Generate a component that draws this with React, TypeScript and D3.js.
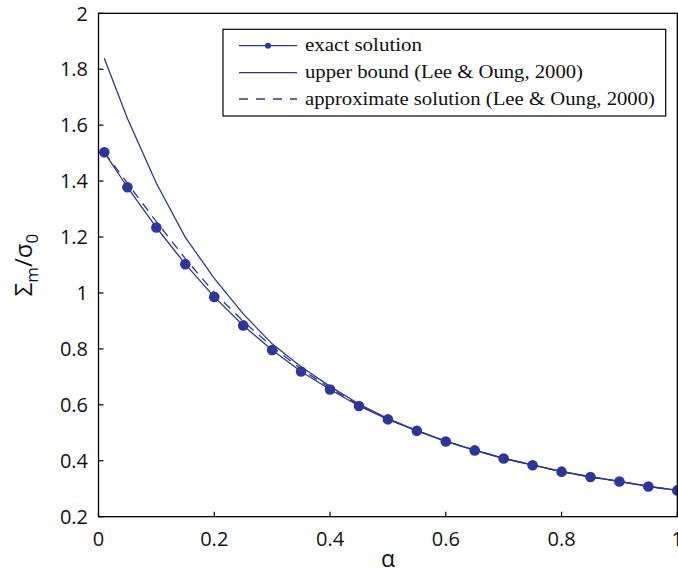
import React from "react";
import * as d3 from "d3";

const alphas = [0.01, 0.05, 0.1, 0.15, 0.2, 0.25, 0.3, 0.35, 0.4, 0.45, 0.5, 0.55, 0.6, 0.65, 0.7, 0.75, 0.8, 0.85, 0.9, 0.95, 1.0];
const exact = [1.503, 1.378, 1.234, 1.103, 0.986, 0.884, 0.796, 0.719, 0.655, 0.596, 0.548, 0.507, 0.469, 0.437, 0.408, 0.384, 0.361, 0.342, 0.326, 0.308, 0.294];
const upper = [1.839, 1.624, 1.392, 1.199, 1.052, 0.925, 0.818, 0.736, 0.666, 0.603, 0.551, 0.508, 0.470, 0.438, 0.409, 0.385, 0.362, 0.343, 0.326, 0.309, 0.294];
const approx = [1.503, 1.392, 1.255, 1.123, 1.001, 0.899, 0.808, 0.728, 0.660, 0.599, 0.549, 0.508, 0.470, 0.438, 0.409, 0.384, 0.361, 0.342, 0.326, 0.308, 0.294];
const xTicks = [0, 0.2, 0.4, 0.6, 0.8, 1];
const yTicks = [0.2, 0.4, 0.6, 0.8, 1, 1.2, 1.4, 1.6, 1.8, 2];
const legendLabels = ["exact solution", "upper bound (Lee & Oung, 2000)", "approximate solution (Lee & Oung, 2000)"];
const legendWidths = [117, 278, 350];

const COLOR = "#2E3799";

export default function App() {
  const x = d3.scaleLinear().domain([0, 1]).range([98.5, 677.3]);
  const y = d3.scaleLinear().domain([0.2, 2]).range([516.7, 13.3]);
  const line = (vals: number[]) =>
    d3.line<number>().x((_, i) => x(alphas[i])).y((v) => y(v))(vals) || "";
  const tickFont = "'Open Sans', 'Noto Sans', sans-serif";
  const serif = "'Liberation Serif', 'DejaVu Serif', serif";
  const lx0 = 239, lx1 = 297, ltx = 305;
  const rows = [45.7, 72.7, 99];
  return (
    <svg width={678} height={575} style={{ position: "absolute", left: 0, top: 0, background: "#fff" }}>
      <rect x={0} y={0} width={678} height={575} fill="#fff" />
      <path d={line(upper)} fill="none" stroke={COLOR} strokeWidth={1.3} />
      <path d={line(approx)} fill="none" stroke={COLOR} strokeWidth={1.3} strokeDasharray="9,7" />
      <path d={line(exact)} fill="none" stroke={COLOR} strokeWidth={1.3} />
      {exact.map((v, i) => (
        <circle key={i} cx={x(alphas[i])} cy={y(v)} r={5.3} fill={COLOR} />
      ))}
      <rect x={x(0)} y={y(2)} width={x(1) - x(0)} height={y(0.2) - y(2)} fill="none" stroke="#000" strokeWidth={1.3} />
      {yTicks.map((t) => (
        <g key={"y" + t}>
          <line x1={x(0)} x2={x(0) + 5} y1={y(t)} y2={y(t)} stroke="#000" strokeWidth={1.2} />
          <text x={88} y={y(t)} dy="0.36em" textAnchor="end" fontFamily={tickFont} fontSize={20} fill="#111">{String(t)}</text>
        </g>
      ))}
      {xTicks.map((t) => (
        <g key={"x" + t}>
          <line x1={x(t)} x2={x(t)} y1={y(0.2)} y2={y(0.2) - 5} stroke="#000" strokeWidth={1.2} />
          <text x={x(t)} y={546} textAnchor="middle" fontFamily={tickFont} fontSize={20} fill="#111">{String(t)}</text>
        </g>
      ))}
      <text x={388} y={567} textAnchor="middle" fontFamily={tickFont} fontSize={23} fill="#111">α</text>
      <g transform="translate(32,265) rotate(-90)">
        <text textAnchor="middle" fontFamily={tickFont} fontSize={24} fill="#111">
          Σ<tspan fontSize={17} dy={6}>m</tspan><tspan dy={-6}>/σ</tspan><tspan fontSize={17} dy={6}>0</tspan>
        </text>
      </g>
      <rect x={223} y={29.3} width={442.7} height={86.7} fill="#fff" stroke="#000" strokeWidth={1.2} />
      {rows.map((ry, i) => (
        <g key={"l" + i}>
          <line x1={lx0} x2={lx1} y1={ry} y2={ry} stroke={COLOR} strokeWidth={1.3} strokeDasharray={i === 2 ? "9,8" : undefined} />
          {i === 0 && <circle cx={(lx0 + lx1) / 2} cy={ry} r={3} fill={COLOR} />}
          <text x={ltx} y={ry} dy="0.3em" fontFamily={serif} fontSize={19} fill="#111"
            textLength={legendWidths[i]} lengthAdjust="spacingAndGlyphs">{legendLabels[i]}</text>
        </g>
      ))}
    </svg>
  );
}
